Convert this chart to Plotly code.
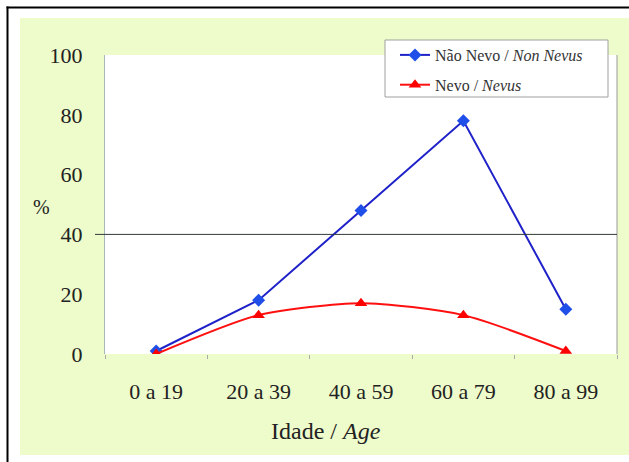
import plotly.graph_objects as go

categories = ["0 a 19", "20 a 39", "40 a 59", "60 a 79", "80 a 99"]
non_nevus = [1, 18, 48, 78, 15]
nevus = [0, 13, 17, 13, 1]
series_names = ["Não Nevo / <i>Non Nevus</i>", "Nevo / <i>Nevus</i>"]
y_ticks = [0, 20, 40, 60, 80, 100]

W, H = 629, 462
L, R, T, B = 105, 12, 55, 108
pw, ph = W - L - R, H - T - B


def px(x):
    return (x - L) / pw


def py(y):
    return (H - B - y) / ph


FONT = "Liberation Serif, Times New Roman, serif"

fig = go.Figure()
fig.add_trace(go.Scatter(
    x=categories, y=non_nevus, name=series_names[0], mode="lines+markers",
    line=dict(color="#1f22c8", width=2),
    marker=dict(symbol="diamond", size=10, color="#1f4fe8"),
    legendgroup="a",
))
fig.add_trace(go.Scatter(
    x=categories, y=nevus, name=series_names[1], mode="lines+markers",
    line=dict(color="#ff1010", width=2, shape="spline", smoothing=0.7),
    marker=dict(symbol="triangle-up", size=11, color="#ff0000"),
    legendgroup="b",
))

shapes = [
    # green background
    dict(type="rect", xref="paper", yref="paper", x0=px(20), x1=px(640), y0=py(455), y1=py(18),
         fillcolor="#eefbcb", line=dict(width=0), layer="below"),
    # white plot area
    dict(type="rect", xref="paper", yref="paper", x0=0, x1=1, y0=0, y1=1,
         fillcolor="white", line=dict(width=0), layer="below"),
    # outer black border
    dict(type="line", xref="paper", yref="paper", x0=px(7.5), x1=px(7.5), y0=py(6.5), y1=py(470),
         line=dict(color="black", width=2)),
    dict(type="line", xref="paper", yref="paper", x0=px(6.5), x1=px(640), y0=py(7.5), y1=py(7.5),
         line=dict(color="black", width=2)),
    # right border of plot
    dict(type="line", xref="paper", yref="paper", x0=1, x1=1, y0=0, y1=1,
         line=dict(color="#9a9a9a", width=1)),
    # horizontal line at 40
    dict(type="line", xref="paper", yref="y", x0=px(95), x1=1, y0=40, y1=40,
         line=dict(color="#303838", width=1)),
    # legend box
    dict(type="rect", xref="paper", yref="paper", x0=px(385), x1=px(608), y0=py(97), y1=py(40),
         fillcolor="white", line=dict(color="#a0a0a0", width=1)),
]

fig.update_layout(
    width=W, height=H,
    margin=dict(l=L, r=R, t=T, b=B),
    paper_bgcolor="white", plot_bgcolor="white",
    shapes=shapes,
    showlegend=True,
    legend=dict(x=px(395), y=py(38), xanchor="left", yanchor="top",
                bgcolor="rgba(0,0,0,0)", borderwidth=0,
                font=dict(family=FONT, size=16, color="#333"),
                tracegroupgap=6),
    xaxis=dict(type="category", range=[-0.5, 4.5], showgrid=False, zeroline=False,
               showline=False, ticks="outside", tickson="boundaries", ticklen=4,
               tickcolor="#aaaaaa", ticklabelstandoff=22,
               tickfont=dict(family=FONT, size=22, color="#222")),
    yaxis=dict(range=[0, 100], tickvals=y_ticks, showgrid=False, zeroline=False,
               showline=True, linecolor="#a8b8b8", linewidth=1, ticks="",
               ticklabelstandoff=17,
               tickfont=dict(family=FONT, size=22, color="#222")),
    annotations=[
        dict(text="Idade / <i>Age</i>", xref="paper", yref="paper", x=px(326), y=py(431),
             xanchor="center", yanchor="middle",
             showarrow=False, font=dict(family=FONT, size=24, color="#222")),
        dict(text="%", xref="paper", yref="paper", x=px(41), y=py(207),
             xanchor="center", yanchor="middle",
             showarrow=False, font=dict(family=FONT, size=20, color="#222")),
    ],
)

fig.write_html("out.html", config={"displayModeBar": False},
               post_script="document.body.style.margin='0px';")
